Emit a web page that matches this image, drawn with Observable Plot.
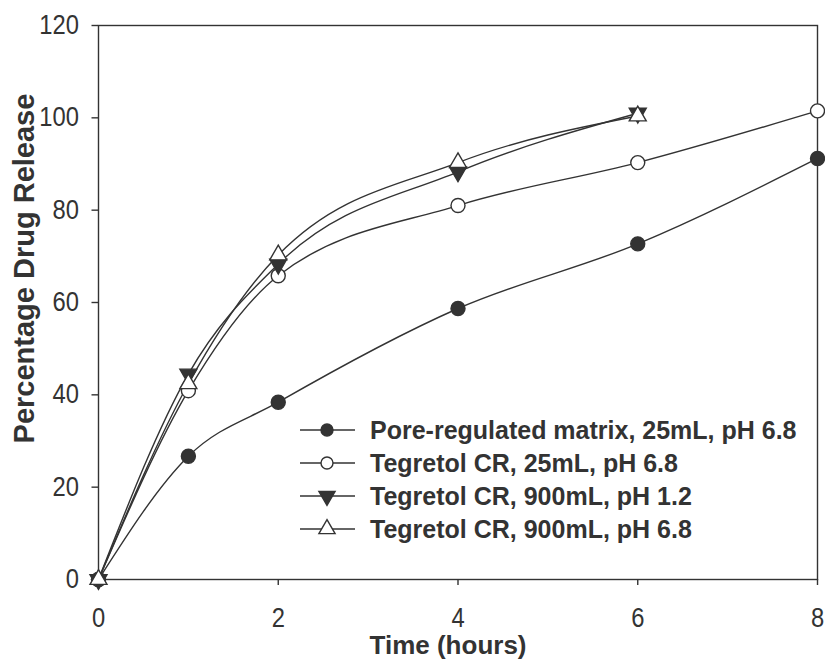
<!DOCTYPE html>
<html><head><meta charset="utf-8">
<script src="https://cdn.jsdelivr.net/npm/d3@7"></script>
<script src="https://cdn.jsdelivr.net/npm/@observablehq/plot@0.6"></script>
<style>
body{margin:0;background:#fff;}
#wrap{position:relative;width:825px;height:660px;}
#legend{position:absolute;left:296px;top:413px;}
</style></head><body>
<div id="wrap"><div id="chart"></div><div id="legend"></div></div>
<script>
const hours = [0, 1, 2, 4, 6, 8];
const hoursShort = [0, 1, 2, 4, 6];
const poreMatrix25 = [0, 26.7, 38.4, 58.7, 72.7, 91.2];
const tegretol25 = [0, 40.9, 65.8, 81.0, 90.3, 101.5];
const tegretol900pH12 = [0, 44.5, 68.3, 88.3, 101.0];
const tegretol900pH68 = [0, 42.4, 70.3, 90.3, 100.4];
const seriesNames = [
  "Pore-regulated matrix, 25mL, pH 6.8",
  "Tegretol CR, 25mL, pH 6.8",
  "Tegretol CR, 900mL, pH 1.2",
  "Tegretol CR, 900mL, pH 6.8"
];
const xTicks = [0, 2, 4, 6, 8];
const yTicks = [0, 20, 40, 60, 80, 100, 120];
const xLabel = "Time (hours)";
const yLabel = "Percentage Drug Release";

const ink = "#333";
const styles = [
  {symbol: "circle", fill: ink, rotate: 0, r: 7},
  {symbol: "circle", fill: "white", rotate: 0, r: 7},
  {symbol: "triangle", fill: ink, rotate: 180, r: 6.3},
  {symbol: "triangle", fill: "white", rotate: 0, r: 6.3}
];

const seriesX = [hours, hours, hoursShort, hoursShort];
const seriesY = [poreMatrix25, tegretol25, tegretol900pH12, tegretol900pH68];
const seriesRows = seriesNames.map((name, i) =>
  seriesY[i].map((v, j) => ({name, x: seriesX[i][j], y: v})));

const regular = "'Liberation Sans', Arial, sans-serif";

const chart = Plot.plot({
  width: 825,
  height: 660,
  marginLeft: 98,
  marginTop: 25,
  marginRight: 8,
  marginBottom: 81,
  style: {color: ink, background: "white", overflow: "visible"},
  x: {domain: [0, 8]},
  y: {domain: [0, 120]},
  marks: [
    Plot.frame({stroke: ink, strokeWidth: 1.4}),
    Plot.axisX({ticks: xTicks, tickSize: 6, tickPadding: 22, fontSize: 27, fontFamily: regular, label: null, strokeWidth: 1.4, className: "tickx"}),
    Plot.axisY({ticks: yTicks, tickSize: 6.5, tickPadding: 13, fontSize: 27, fontFamily: regular, label: null, strokeWidth: 1.4, className: "ticky"}),
    ...seriesRows.map(rows => Plot.line(rows, {x: "x", y: "y", curve: "monotone-x", stroke: ink, strokeWidth: 1.4})),
    ...seriesRows.map((rows, i) => Plot.dot(rows, {x: "x", y: "y", symbol: styles[i].symbol, fill: styles[i].fill, rotate: styles[i].rotate, r: styles[i].r, stroke: ink, strokeWidth: 1.4})),
    Plot.text([xLabel], {frameAnchor: "bottom", dy: 74, dx: -10, fontSize: 26, fontWeight: "bold", fontFamily: regular, fill: ink}),
    Plot.text([yLabel], {frameAnchor: "left", textAnchor: "middle", dx: -74, dy: -34, rotate: -90, fontSize: 29, fontWeight: "bold", fontFamily: regular, fill: ink})
  ]
});
document.getElementById("chart").appendChild(chart);
// slightly condensed tick labels, as in the reference
d3.select(chart).selectAll("text").each(function() {
  const t = this.getAttribute("transform");
  const p = this.parentNode;
  if (p && p.getAttribute && /tick/.test(p.getAttribute("class") || "") && t) {
    this.setAttribute("transform", t + " scale(0.88,1)");
  }
});

// Legend
const lg = d3.select("#legend").append("svg").attr("width", 529).attr("height", 140);
seriesNames.forEach((name, i) => {
  const g = lg.append("g").attr("transform", `translate(0,${17 + i * 33})`);
  g.append("line").attr("x1", 4).attr("x2", 59).attr("stroke", ink).attr("stroke-width", 1.4);
  const sym = styles[i].symbol === "circle" ? d3.symbolCircle : d3.symbolTriangle;
  g.append("path").attr("d", d3.symbol(sym, Math.PI * 36)())
    .attr("transform", `translate(31,0) rotate(${styles[i].rotate})`)
    .attr("fill", styles[i].fill).attr("stroke", ink).attr("stroke-width", 1.4);
  g.append("text").attr("x", 74).attr("dy", "0.35em").text(name)
    .attr("font-family", regular).attr("font-weight", "bold").attr("font-size", 25).attr("fill", ink);
});
</script>
</body></html>
